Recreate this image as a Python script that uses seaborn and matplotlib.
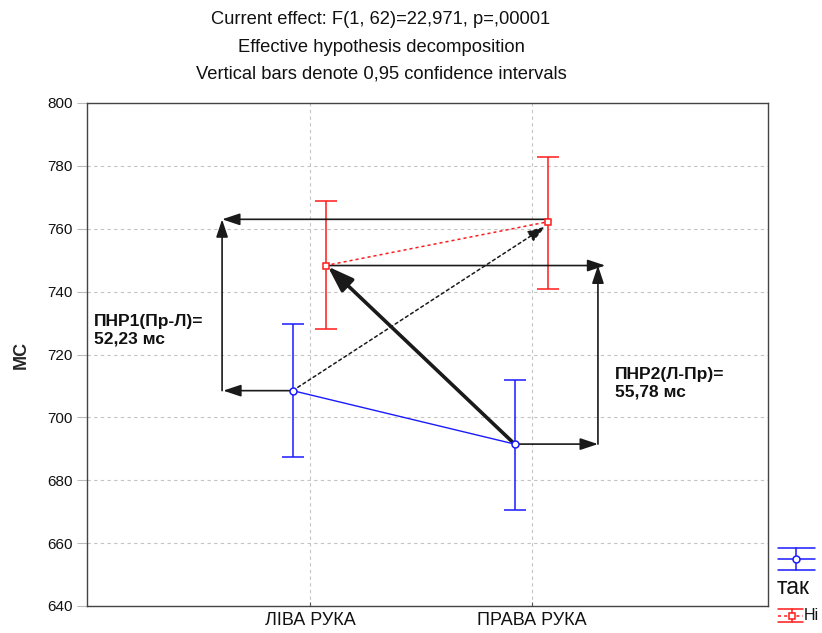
import numpy as np
import pandas as pd
import matplotlib
matplotlib.use('Agg')
import matplotlib.pyplot as plt
import seaborn as sns

# ---- data ----
categories = ['ЛІВА РУКА', 'ПРАВА РУКА']
groups = ['так', 'Ні']
tak_mean = [708.5, 691.5]
tak_low = [687.3, 670.6]
tak_high = [729.6, 712.0]
ni_mean = [748.3, 762.2]
ni_low = [728.1, 740.8]
ni_high = [768.7, 782.8]
yticks = [640, 660, 680, 700, 720, 740, 760, 780, 800]
title_lines = ['Current effect: F(1, 62)=22,971, p=,00001',
               'Effective hypothesis decomposition',
               'Vertical bars denote 0,95 confidence intervals']
note1 = 'ПНР1(Пр-Л)=\n52,23 мс'
note2 = 'ПНР2(Л-Пр)=\n55,78 мс'
ylabel = 'МС'

BLUE = '#1a1aff'
RED = '#ff1a1a'
ARW = '#1a1a1a'

sns.set_theme(style='white')
plt.rcParams['font.family'] = ['Liberation Sans', 'DejaVu Sans']

W, H = 822, 633
fig = plt.figure(figsize=(W / 100, H / 100), dpi=100)
ax = fig.add_axes([87 / W, 1 - 606 / H, (768 - 87) / W, (606 - 103) / H])

off_t, off_n = -0.078, 0.07
xi = np.arange(len(categories))
xt = xi + off_t
xn = xi + off_n

df = pd.DataFrame({
    'x': np.concatenate([xt, xn]),
    'mean': tak_mean + ni_mean,
    'group': [groups[0]] * 2 + [groups[1]] * 2,
})

ax.set_xlim(-1.0045, 2.063)
ax.set_ylim(640, 800)
ax.set_yticks(yticks)
ax.set_xticks(xi)
ax.set_xticklabels(categories)
ax.grid(True, color='#c4c4c4', linestyle=(0, (3, 3)), linewidth=0.8)
ax.set_axisbelow(True)

# error bars
ax.errorbar(xt, tak_mean, yerr=[np.subtract(tak_mean, tak_low), np.subtract(tak_high, tak_mean)],
            fmt='none', ecolor=BLUE, elinewidth=1.1, capsize=8, capthick=1.1, zorder=3)
ax.errorbar(xn, ni_mean, yerr=[np.subtract(ni_mean, ni_low), np.subtract(ni_high, ni_mean)],
            fmt='none', ecolor=RED, elinewidth=1.1, capsize=8, capthick=1.1, zorder=3)

# lines + markers
sns.lineplot(data=df[df.group == groups[0]], x='x', y='mean', ax=ax, color=BLUE, lw=1,
             marker='o', markersize=5, markerfacecolor='white', markeredgecolor=BLUE,
             markeredgewidth=1.1, zorder=6, legend=False)
sns.lineplot(data=df[df.group == groups[1]], x='x', y='mean', ax=ax, color=RED, lw=1.1,
             linestyle=(0, (2, 2)), marker='s', markersize=5, markerfacecolor='white',
             markeredgecolor=RED, markeredgewidth=1.1, zorder=6, legend=False)


def arrow(x0, y0, x1, y1, lw=1.2, hl=0.9, hw=0.3, ls='-', shrinkB=0, z=4):
    ax.annotate('', xy=(x1, y1), xytext=(x0, y0),
                arrowprops=dict(arrowstyle=f'-|>,head_length={hl},head_width={hw}',
                                color=ARW, lw=lw, linestyle=ls, shrinkA=0, shrinkB=shrinkB),
                zorder=z)


xl = -0.396
xr = 1.297
# left decomposition
arrow(xn[1], ni_mean[1] + 0.8, xl, ni_mean[1] + 0.8)
arrow(xl, tak_mean[0], xl, ni_mean[1] + 0.8)
arrow(xt[0], tak_mean[0], xl + 0.005, tak_mean[0])
# right decomposition
arrow(xt[1], tak_mean[1], xr, tak_mean[1])
arrow(xr, tak_mean[1], xr, ni_mean[0])
arrow(xn[0], ni_mean[0], 1.33, ni_mean[0])
# thick diagonal
arrow(xt[1], tak_mean[1], xn[0] + 0.01, ni_mean[0] - 0.3, lw=2.6, hl=1.3, hw=0.45, z=5)
# dotted diagonal
arrow(xt[0], tak_mean[0], xn[1] - 0.01, ni_mean[1] - 1.5, lw=1.1, ls=(0, (2, 2)), shrinkB=0, z=4)

# annotations
ax.text(-0.973, 733.0, note1, fontsize=12.5, fontweight='bold', va='top', ha='left',
        linespacing=1.2, color='#111111')
ax.text(1.374, 716.0, note2, fontsize=12.5, fontweight='bold', va='top', ha='left',
        linespacing=1.2, color='#111111')

# axes styling
for s in ax.spines.values():
    s.set_color('#444444')
    s.set_linewidth(1.0)
ax.tick_params(axis='y', direction='out', length=7, width=0.8, color='#bbbbbb',
               labelsize=11, pad=3, left=True, labelcolor='#111111')
ax.tick_params(axis='x', direction='in', length=3, width=0.8, color='#555555',
               labelsize=13, pad=4, bottom=True, labelcolor='#111111')
ax.set_xlabel('')
ax.set_ylabel(ylabel, fontsize=13, fontweight='bold', labelpad=13)

# titles
for i, t in enumerate(title_lines):
    fig.text(381 / W, 1 - (20 + 27 * i) / H, t, ha='center', va='center', fontsize=13.2,
             color='#111111')

# legend (figure pixel coordinates)
lax = fig.add_axes([0, 0, 1, 1], zorder=10)
lax.set_xlim(0, W)
lax.set_ylim(H, 0)
lax.axis('off')
lax.patch.set_alpha(0)
for yy in (548, 559, 570):
    lax.plot([778, 815], [yy, yy], color=BLUE, lw=1.1)
lax.plot([796, 796], [548, 570], color=BLUE, lw=1.1)
lax.plot([796], [559], marker='o', ms=5, mfc='white', mec=BLUE, mew=1.1)
lax.text(777, 587, groups[0], fontsize=16.5, va='center', ha='left', color='#111111')
for yy in (609, 622):
    lax.plot([778, 803], [yy, yy], color=RED, lw=1.1)
lax.plot([778, 803], [615.5, 615.5], color=RED, lw=1.1, linestyle=(0, (2, 2)))
lax.plot([792, 792], [609, 622], color=RED, lw=1.1)
lax.plot([792], [615.5], marker='s', ms=5, mfc='white', mec=RED, mew=1.1)
lax.text(804, 616, groups[1], fontsize=11.5, va='center', ha='left', color='#111111')

fig.savefig('out.png', dpi=100)
